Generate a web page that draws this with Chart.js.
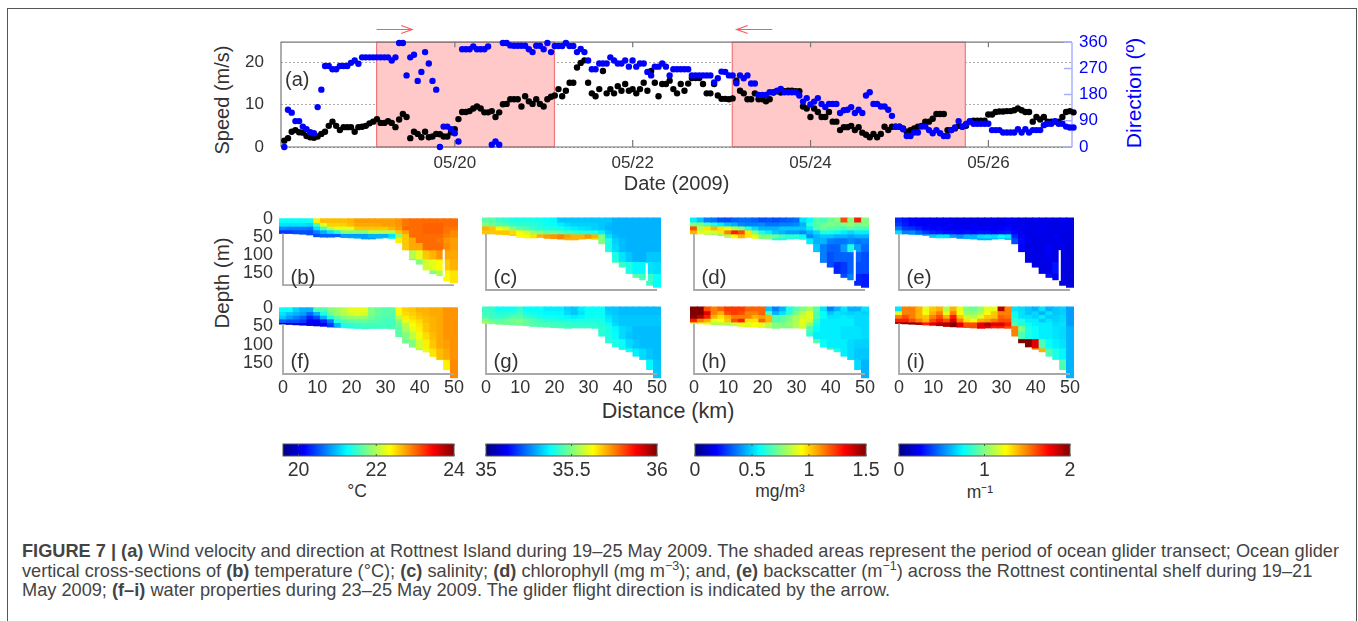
<!DOCTYPE html>
<html>
<head>
<meta charset="utf-8">
<title>Figure 7</title>
<script src="https://cdn.jsdelivr.net/npm/chart.js@4"></script>
<style>
  html, body { margin: 0; padding: 0; background: #fff; overflow: hidden; }
  body { width: 1358px; height: 621px; position: relative; font-family: "Liberation Sans", Arial, sans-serif; color: #333; }
  canvas { position: absolute; }
  #frame { position: absolute; left: 7px; top: 8px; width: 1348px; height: 640px; border: 1.5px solid #555; border-bottom: 0; }
  .rot { position: absolute; transform: translate(-50%, -50%) rotate(-90deg); white-space: nowrap; font-size: 20px; }
  .lab { position: absolute; transform: translate(-50%, -50%); white-space: nowrap; font-size: 21.5px; }
  .unit { font-size: 17.5px; }
  .cap { position: absolute; left: 22px; white-space: nowrap; font-size: 18.2px; line-height: 20px; color: #444; }
  .cap sup { font-size: 12.5px; line-height: 0; }
</style>
</head>
<body>
<div id="frame"></div>
<div class="rot" style="left:222px;top:100px">Speed (m/s)</div>
<div class="rot" style="left:1134px;top:93px;color:#0000ff;font-size:21px">Direction (º)</div>
<div class="rot" style="left:222px;top:283px;font-size:20.5px">Depth (m)</div>
<div class="lab" style="left:668px;top:411px">Distance (km)</div>
<div class="lab unit" style="left:357px;top:491px">°C</div>
<div class="lab unit" style="left:780px;top:491px">mg/m³</div>
<div class="lab unit" style="left:980px;top:491px">m⁻¹</div>
<div class="cap" style="top:541px"><b>FIGURE 7 | (a)</b> Wind velocity and direction at Rottnest Island during 19–25 May 2009. The shaded areas represent the period of ocean glider transect; Ocean glider</div>
<div class="cap" style="top:561px">vertical cross-sections of <b>(b)</b> temperature (°C); <b>(c)</b> salinity; <b>(d)</b> chlorophyll (mg m<sup>−3</sup>); and, <b>(e)</b> backscatter (m<sup>−1</sup>) across the Rottnest continental shelf during 19–21</div>
<div class="cap" style="top:580px">May 2009; <b>(f–i)</b> water properties during 23–25 May 2009. The glider flight direction is indicated by the arrow.</div>

<script>
// hourly wind record, first reading at day 18.08 of May
const firstDay = 18.082;
const speed = [
  1.5,2.1,3.6,4.0,3.5,3.4,2.6,2.3,2.2,2.5,
  3.1,3.6,5.0,6.0,5.0,4.0,4.7,4.7,4.7,3.6,
  4.7,4.8,5.0,5.6,6.0,6.6,5.7,5.7,6.1,5.7,
  4.7,6.5,7.8,7.1,2.1,3.6,3.1,2.3,3.6,2.3,
  2.5,3.1,3.0,2.5,2.5,3.5,4.2,6.6,8.3,8.3,
  8.5,9.1,9.6,9.1,8.2,8.2,8.5,7.1,8.2,10.1,
  10.2,11.3,11.3,11.3,9.6,12.0,10.8,10.2,11.3,10.2,
  9.6,11.3,11.9,12.2,13.7,12,13.3,15.2,15.2,18.8,
  19.9,20.5,15.2,12.7,12,13.7,18,12.7,13.7,12.7,
  14.4,13.3,14.9,13.3,13.7,12.7,13.7,15.2,13.3,18,
  15.2,12,14.9,14.9,15.7,13.7,12.7,14.9,13.3,15,
  16.3,16.3,16.3,14.9,12.7,12.7,14.9,12.2,11.4,11.4,
  11.3,11.5,15.7,13.3,12.7,11.3,11.3,12.7,11.3,11.3,
  10.8,11.3,12.9,13.2,12.9,13.2,13.3,13.3,13.2,13.2,
  9.6,9.1,7.1,9.1,8.3,7.1,7.1,8.3,6,6,
  4,4.7,4.7,5,4,4.7,3.4,2.9,2.3,3.1,
  2.3,3.1,4.8,4,4.8,4.8,4.8,4.4,3.6,4,
  4.4,4.8,5,6,6,6.7,7.8,7.8,7.8,4,
  4,4.4,5,4.8,5,6,6.2,6.2,6.2,6.2,
  7.7,7.7,8.3,8.4,8.4,8.5,8.5,8.7,9.1,8.7,
  8.3,8.3,6,7.1,6.5,7.1,6,6,6,6,
  7.1,8.3,8.5,8.2
];
const direction = [
  0,128,118,89,89,70,61,51,47,137,
  197,278,278,267,267,278,278,278,289,297,
  286,308,308,308,308,308,308,308,308,297,
  308,357,357,246,308,317,227,258,326,287,
  227,197,0,70,70,61,47,19,336,336,
  336,345,336,336,336,345,8,19,8,357,
  357,349,348,348,348,348,336,326,348,348,
  336,357,326,347,347,347,357,347,347,326,
  337,326,297,267,267,287,287,287,308,297,
  287,287,297,276,297,276,287,287,258,246,
  276,276,287,276,246,267,267,267,267,267,
  246,246,246,246,246,246,222,236,259,258,
  246,246,219,246,236,246,218,218,179,179,
  179,188,188,193,199,188,188,188,188,177,
  156,168,146,156,168,148,137,148,148,148,
  117,126,128,137,117,128,117,177,188,148,
  148,139,139,128,107,70,70,61,38,38,
  50,50,70,70,58,47,58,47,38,38,
  58,67,89,70,79,89,80,80,80,80,
  80,58,58,58,50,50,50,50,61,50,
  61,50,58,58,58,75,80,80,89,80,
  80,70,67,67
];
const dateTicks = [20, 22, 24, 26];
const speedTicks = [0, 10, 20];
const directionTicks = [0, 90, 180, 270, 360];
const transects = [[19.12, 21.12], [23.12, 25.74]];
const arrows = [[19.12, 19.52], [23.57, 23.17]];

// cross-sections: columns at 0,2,...,50 km, values on the colour bar in tenths (0-10)
const distances = [0,2,4,6,8,10,12,14,16,18,20,22,24,26,28,30,32,34,36,38,40,42,44,46,48,50];
const distanceTicks = [0, 10, 20, 30, 40, 50];
const depthTicks = [0, 50, 100, 150];
const bands = [0, 10, 20, 30, 40, 50, 65, 85, 110, 140, 190];
const bottomEarly = [40,40,41,42,44,49,50,50,49,51,52,53,55,55,53,52,54,65,85,112,124,140,150,156,170,175];
const bottomLate = [44,45,46,47,48,49,50,52,53,54,55,56,57,56,56,56,57,78,96,107,114,120,132,141,168,190];

// rows shorter than 26 are aligned to the offshore end
const tempEarly = [
  [3.8,3.8,3.8,3.8,3.9,6.4,6.9,6.9,6.9,6.9,7,7.2,7.2,7.2,7.2,7.2,7.2,7.3,7.6,7.7,7.7,7.7,7.7,7.7,7.7,7.7],
  [3.5,3.5,3.5,3.5,3.4,4.5,6,6.7,6.7,6.7,6.9,7.1,7.1,7.1,7.1,7.2,7.2,7.3,7.6,7.7,7.7,7.8,7.8,7.8,7.7,7.7],
  [2.6,2.5,2.5,2.5,2.4,3.5,4.5,5.5,6,6,6,6.8,6.8,6.8,6.8,6.8,7,7.2,7.7,7.7,7.7,7.8,7.8,7.8,7.6,7.6],
  [1.8,1.8,2,2,2,2.5,3,3.5,4,5,5,5,5,5.5,5.5,5.5,5.5,6.8,7.2,7.7,7.7,7.8,7.8,7.8,7.6,7.4],
  [1.8,1.8,1.9,2,2,2,2.2,2.2,2.2,2.8,2.8,2.8,2.8,3,3,3,3.5,5,6.8,7.7,7.7,7.7,7.7,7.7,7.5,7.4],
  [2.8,2.8,3,3,2.8,2.8,3,3.2,4,6.4,6.8,7.1,7.7,7.7,7.7,7.6,7.3,7.2],
  [5.5,6.8,7.1,7.1,7.7,7.7,7.7,7.4,7.2],
  [5,5.5,6,6.8,7,7.3,7.1,7.1],
  [4.5,5,5.8,6,6.3,6.8,7],
  [5,5,5.5,6.3,6.5]
];
const saltEarly = [
  [4.6,4.6,4.3,4.2,4,4,4,4,3.9,3.8,3.7,3.2,3.2,3.2,3.2,3.2,3.2,3.2,3.2,3,3,3,3,3,3,3],
  [5,4.8,4.6,4.5,4.3,4.2,4.2,4.1,4,3.9,3.8,3.6,3.4,3.3,3.3,3.3,3.3,3.2,3.1,3,3,3,3,3,3,3],
  [7,6.8,6.2,5.8,5,4.6,4.5,4.3,4.1,4,4,3.9,3.7,3.6,3.5,3.4,3.3,3.2,3,3,3,3,3,3,3,3],
  [6.8,6.8,6.8,6.8,6.6,6.2,5.8,5.2,5,4.8,4.8,4.6,4.4,4.2,4.1,4,4,3.6,3.2,3,3,3,3,3,3,3],
  [6.8,6.8,6.8,6.8,6.8,6.2,6.2,6.5,7,7.2,7.3,7.5,7.2,7,7,7.3,7,5,3.5,3.1,3,3,3,3,3,3],
  [7,7,7,7,6.5,5,4,3.3,3.1,3,3,3,3,3],
  [4.4,4,3.4,3.1,3,3,3,3,3],
  [4.5,4,3.5,3.2,3,3,3.2,3.2],
  [4.6,4.3,4,3.7,3.7,3.5,3.4],
  [4.7,4.6,4.4,4.3,3.8]
];
const chlEarly = [
  [3.6,3.2,2.5,2.4,2,2,2.2,2.3,2.3,2.2,2,2.1,2,2.1,2.2,2.3,3.5,3.8,4.6,4.4,4.8,5,8,5,8.5,5],
  [5,5,4.5,4,3.6,3.2,3,2.6,2.5,2.5,2.6,2.4,2.4,2.5,2.5,2.6,3,4.2,4.6,4.8,5,4.8,5,5.2,4.8,5],
  [8,5.5,6.5,7,6.5,6,5.5,5,4,3.4,3,3,3,3.2,3.2,3.2,3.2,3.6,4.5,4.8,4.6,4.6,4.4,4.6,4.5,4.5],
  [7,6,6,5.8,6.5,7.5,8.5,8,6.5,5,4,3.6,3.2,3,2.8,2.8,2.6,3,3.4,4,4,3.8,3.6,3.4,3.6,3.6],
  [5,5,5,5,5,5.5,6.2,7,6.5,6,5,5,4.8,4.4,4.2,4.2,3.8,2.6,3,3.2,3.2,3,3,2.8,3,3],
  [4,4,4,4,4.2,3.6,3,3,2.5,2.4,2.4,2.6,2.4,2.5],
  [4,3.2,2.5,2.2,2.2,2.8,4,2.8,2.3],
  [3,2.5,2,2.2,2.2,2.2,2.2,2],
  [2.3,2,1.6,1.8,2.2,2,2],
  [2,2,2.5,1.6,1.5]
];
const backEarly = [
  [1.6,1.4,1.2,1.2,1.2,1.1,1.1,1.2,1,1,1.1,1,1.1,1,1.1,1,1.2,1.1,1,1,1.1,1,1.1,1,1.1,1],
  [1.8,1.5,1.3,1.2,1.2,1.2,1.1,1.1,1.2,1.1,1.1,1.2,1,1.1,1.1,1.1,1.2,1.1,1.1,1,1,1.1,1,1,1.1,1],
  [2.4,1.8,1.7,1.5,1.3,1.2,1.3,1.2,1.1,1.2,1.1,1.2,1.1,1.2,1.1,1.2,1.3,1.1,1,1.1,1,1.1,1,1,1,1],
  [3.4,2.5,2.6,2.2,1.8,1.6,1.5,1.4,1.4,1.3,1.4,1.3,1.4,1.4,1.3,1.4,1.5,1.3,1.1,1,1.1,1,1.1,1,1,1],
  [2.8,3,2.8,3,3,3.2,3.5,3.5,2.8,2.6,3,3,3.4,3.5,3.4,3.8,3.6,1.6,1.2,1,1,1.1,1,1.2,1,1],
  [3,3,3,3.2,3,2,1.3,1.1,1,1,1,1,1,1],
  [1.8,1.2,1,1,1,1.2,1,1.1,0.9],
  [1.4,1,1,1,1.1,1,1,0.9],
  [1.3,1,1,1,1.4,1,0.9],
  [1.2,1.4,1.2,1,0.9]
];
const tempLate = [
  [3.8,3.8,3.3,3,3,4.5,4.5,5,5.3,5.6,6,6,6,5,4.7,4.6,4.6,6.3,6.7,6.8,7,7,7.1,7.1,7.3,7.3],
  [3.5,3.2,3,2.8,2.3,3,4,4.8,5.2,5.5,5.8,6,5.8,5,4.7,4.6,4.6,6.1,6.6,6.7,6.9,7,7.1,7.1,7.3,7.3],
  [3.2,2.8,2.5,2.2,1.6,2,3,4,4.6,5,5.2,5.2,5.2,4.8,4.6,4.5,4.5,5.5,6.4,6.6,6.8,6.9,7,7.1,7.3,7.3],
  [2.2,2,2,1.8,1.2,1.2,1.6,2.4,4,4.5,4.6,4.7,4.7,4.6,4.5,4.4,4.4,5,6,6.4,6.6,6.9,7,7.1,7.3,7.3],
  [0.5,0.7,1,1,1,1,1.2,1.8,3,4,4.2,4.3,4.4,4.4,4.4,4.4,4.4,4.8,5.5,6.2,6.5,6.8,7,7.1,7.3,7.3],
  [4,4.2,4.3,4.3,4.4,4.4,4.5,4.6,5.4,6,6.4,6.8,7,7.1,7.3,7.3],
  [4.6,5,5.6,6.1,6.6,6.9,7.1,7.3,7.3],
  [4.8,5,5.8,6.4,6.8,7.1,7.2,7.3],
  [4.8,5.4,6,6.5,6.9,7.1,7.3],
  [5,5.3,6,6.4,7.4]
];
const saltLate = [
  [4.3,4.2,3.9,3.9,3.9,4.2,3.8,3.8,3.8,3.6,3.6,3.6,3.3,3.2,3.6,3.8,3.8,3.8,3.2,3.2,3.1,3.1,3.1,3.1,3.1,3.1],
  [4.4,4.3,4.1,4.1,4.2,4.4,4,3.9,3.8,3.7,3.7,3.7,3.4,3.2,3.5,3.8,3.8,3.8,3.3,3.2,3.1,3.1,3.1,3.1,3.1,3.1],
  [4.5,4.3,4.3,4.4,4.6,4.6,4.3,4.2,4,3.9,3.9,3.8,3.7,3.6,3.7,3.9,3.9,3.9,3.5,3.3,3.2,3.2,3.2,3.2,3.2,3.2],
  [5,4.7,4.6,4.7,4.9,5,4.7,4.5,4.3,4.2,4.1,4.1,4,4,4,4,4,4,3.6,3.3,3.2,3.2,3.2,3.2,3.2,3.2],
  [5.6,5,4.8,4.8,4.8,4.8,4.7,4.6,4.5,4.5,4.4,4.4,4.3,4.2,4.2,4.2,4.2,4,3.8,3.4,3.2,3.2,3.2,3.2,3.2,3.2],
  [4.4,4.3,4.3,4.3,4.2,4.2,4,3.7,3.4,3.3,3.1,3.1,3.1,3.1],
  [4.1,4,3.8,3.4,3.2,3.1,3.1,3.1,3.1],
  [4.1,4,3.8,3.4,3.2,3.1,3.1,3.1],
  [4.1,4,3.9,3.6,3.4,3.2,3.1],
  [4,4,3.9,3.7,3.2]
];
const chlLate = [
  [10,10,8,7.5,7.8,8.2,8.2,8.2,7.8,7.8,7.8,3.2,2.5,3,4,4.6,5,5.4,4.6,3.5,2.5,3,3.5,3,3,3.5],
  [10,10,9,7.5,7,8,8.2,8,7.5,7.5,7.8,4.5,3,3.5,4.2,5,5.5,6,4.5,3.8,3.2,3.5,3.4,3.3,3.4,3.3],
  [10,9.5,8.5,7,6.5,7,7.5,7.5,7.5,7,7.2,7,4.5,4.6,5,5.4,5.8,6,4.5,3.8,3.5,3.5,3.6,3.5,3.4,3.4],
  [8.5,7.5,7,6,6.2,6.8,8,8.5,6.5,6.5,7.8,7,4.5,4.6,5,5.5,6,5.8,4.2,3.6,3.6,3.6,3.6,3.6,3.4,3.4],
  [6,6,6,5.5,5.5,5.5,5.8,6,6,6.2,6,5.5,5,5,5.2,5.5,6,5.2,4,3.6,3.6,3.6,3.6,3.6,3.4,3.4],
  [5,5,5,5.5,5.8,4.5,3.8,3.6,3.6,3.6,3.5,3.5,3.5,3.4],
  [4.2,3.6,3.6,3.6,3.6,3.5,3.5,3.5,3.4],
  [4.6,3.8,3.6,3.6,3.6,3.4,3.3,3.3],
  [5.5,4.8,4,3.6,3.4,3.2,3.2],
  [4.2,4,3.6,3.4,3]
];
const backLate = [
  [3.5,7.5,7.5,7,6,6.8,7,5.5,7,6,5,4.8,5.2,6,6,9.5,7.5,3.5,3.4,3.2,3,3.5,3,3.2,3.3,2.8],
  [6,7.5,7.5,7,6.2,7,7.5,6,7.5,6.2,5.2,5.2,5.5,6.2,6.8,7.5,7.5,3.8,3.5,3.2,3.4,3,3.5,3.2,3.3,2.8],
  [7.5,8,7.5,7,6.8,7.5,8,7,8.5,6.8,5.8,5.5,6,6.8,6.8,7.8,7.6,4,3.5,3.5,3.3,3.6,3.2,3.3,3.4,2.8],
  [8.5,8.5,8,7.5,7,8,8.5,8,9,7.5,6.5,6.2,7,7.2,7.6,8,8,4.2,4,3.6,3.6,3.2,3.5,3.3,3.4,2.8],
  [10,10,10,9.5,8.5,9,9.5,9.5,10,9,8,8,9,9.5,9,9,8.5,4.5,4,3.8,3.6,3.6,3.6,3.4,3.5,2.8],
  [9,9,8.5,8.5,8,7.5,5,4,3.8,3.6,3.6,3.5,3.4,3],
  [7.5,4.5,4,3.8,3.6,3.6,3.5,3.4,3],
  [10,10,9,4.5,3.8,3.6,3.5,3],
  [7,7,7,4.5,4,3.7,3],
  [7,7,5.5,4.5,3]
];

const colorbarStops = [0, 1.25, 3.75, 6.25, 8.75, 10];

const TEXT = "#333";
const FONT = "'Liberation Sans', Arial, sans-serif";

function jet(v) {
  const t = v / 10;
  const c = (x) => Math.round(255 * Math.max(0, Math.min(1, x)));
  const r = c(Math.min(4 * t - 1.5, -4 * t + 4.5));
  const g = c(Math.min(4 * t - 0.5, -4 * t + 3.5));
  const b = c(Math.min(4 * t + 0.5, -4 * t + 2.5));
  return `rgb(${r},${g},${b})`;
}

function addCanvas(left, top, width, height) {
  const cv = document.createElement("canvas");
  cv.width = width;
  cv.height = height;
  cv.style.left = left + "px";
  cv.style.top = top + "px";
  cv.style.width = width + "px";
  cv.style.height = height + "px";
  document.body.appendChild(cv);
  return cv.getContext("2d");
}

// ---- panel (a) ----
const windPlugin = {
  id: "wind",
  beforeDatasetsDraw(chart) {
    const { ctx, chartArea: a, scales: { x } } = chart;
    ctx.save();
    transects.forEach(([from, to]) => {
      const l = x.getPixelForValue(from), r = x.getPixelForValue(to);
      ctx.fillStyle = "#ffc9c9";
      ctx.fillRect(l, a.top, r - l, a.bottom - a.top);
      ctx.strokeStyle = "#f27878";
      ctx.lineWidth = 1.2;
      ctx.strokeRect(l, a.top, r - l, a.bottom - a.top);
    });
    ctx.strokeStyle = "#777";
    ctx.lineWidth = 1.2;
    ctx.beginPath();
    ctx.moveTo(a.left, a.bottom); ctx.lineTo(a.left, a.top); ctx.lineTo(a.right, a.top);
    ctx.moveTo(a.left, a.bottom); ctx.lineTo(a.right, a.bottom);
    dateTicks.forEach((d) => {
      const p = x.getPixelForValue(d);
      ctx.moveTo(p, a.bottom); ctx.lineTo(p, a.bottom - 7);
      ctx.moveTo(p, a.top); ctx.lineTo(p, a.top + 5);
    });
    ctx.stroke();
    ctx.strokeStyle = "#aab0ff";
    ctx.lineWidth = 1.5;
    ctx.beginPath();
    ctx.moveTo(a.right, a.top); ctx.lineTo(a.right, a.bottom);
    directionTicks.forEach((d) => {
      const p = chart.scales.y1.getPixelForValue(d);
      ctx.moveTo(a.right, p); ctx.lineTo(a.right - 8, p);
    });
    ctx.stroke();
    ctx.strokeStyle = "#ff5a5a";
    ctx.lineWidth = 1.2;
    arrows.forEach(([from, to]) => {
      const p = x.getPixelForValue(from), q = x.getPixelForValue(to), s = Math.sign(q - p);
      ctx.beginPath();
      ctx.moveTo(p, 14.5); ctx.lineTo(q, 14.5);
      ctx.moveTo(q - 11 * s, 10.5); ctx.lineTo(q, 14.5); ctx.lineTo(q - 11 * s, 18.5);
      ctx.stroke();
    });
    ctx.fillStyle = TEXT;
    ctx.font = "20px " + FONT;
    ctx.textBaseline = "middle";
    ctx.fillText("(a)", 85, 65);
    ctx.restore();
  }
};

new Chart(addCanvas(200, 15, 960, 190), {
  type: "scatter",
  data: {
    datasets: [
      { label: "Direction", yAxisID: "y1", order: 0, clip: false, pointRadius: 3.2, pointBackgroundColor: "#0000ff", pointBorderWidth: 0,
        data: direction.map((v, i) => ({ x: firstDay + i / 24, y: v })) },
      { label: "Speed", yAxisID: "y", order: 1, clip: false, pointRadius: 3.2, pointBackgroundColor: "#000", pointBorderWidth: 0,
        data: speed.map((v, i) => ({ x: firstDay + i / 24, y: v })) }
    ]
  },
  options: {
    responsive: false,
    animation: false,
    layout: { padding: { top: 26, bottom: 0, left: 0, right: 0 } },
    plugins: { legend: { display: false }, tooltip: { enabled: false } },
    scales: {
      x: {
        type: "linear", min: 18.045, max: 26.94,
        afterBuildTicks: (s) => { s.ticks = dateTicks.map((value) => ({ value })); },
        afterFit: (s) => { s.height = 58; },
        border: { display: false }, grid: { display: false, drawTicks: false },
        ticks: { color: TEXT, font: { size: 17, family: FONT }, padding: 6, maxRotation: 0, autoSkip: false, callback: (v) => "05/" + v },
        title: { display: true, text: "Date (2009)", color: TEXT, font: { size: 20, family: FONT }, padding: { top: 0, bottom: 9 } }
      },
      y: {
        min: 0, max: 24.8,
        afterBuildTicks: (s) => { s.ticks = speedTicks.map((value) => ({ value })); },
        afterFit: (s) => { s.width = 81; },
        border: { display: false, dash: [2, 2] },
        grid: { color: "#aaa", drawTicks: false, lineWidth: 1 },
        ticks: { color: TEXT, font: { size: 17, family: FONT }, padding: 17 }
      },
      y1: {
        position: "right", min: 0, max: 360,
        afterBuildTicks: (s) => { s.ticks = directionTicks.map((value) => ({ value })); },
        afterFit: (s) => { s.width = 88; },
        border: { display: false }, grid: { display: false, drawTicks: false },
        ticks: { color: "#0000ff", font: { size: 17, family: FONT }, padding: 7 }
      }
    }
  },
  plugins: [windPlugin]
});

// ---- sections ----
function sectionDatasets(rows, bottoms, gap) {
  const sets = rows.map((row, r) => {
    const data = [], colors = [];
    distances.forEach((km, c) => {
      if (bands[r] >= bottoms[c]) return;
      let k = r, idx = c - (26 - rows[k].length);
      while (idx < 0) { k--; idx = c - (26 - rows[k].length); }
      data.push({ x: km, y: [bands[r], Math.min(bands[r + 1], bottoms[c])] });
      colors.push(jet(rows[k][idx]));
    });
    return { data, backgroundColor: colors, grouped: false, barThickness: 7, clip: false, borderWidth: 0, inflateAmount: 0.5, order: 2 };
  });
  if (gap) {
    sets.push({ data: [{ x: 47, y: gap }], backgroundColor: "#fff", grouped: false, barThickness: 1.5, clip: false, borderWidth: 0, order: 1 });
  }
  return sets;
}

function section(x0, top, h, maxDepth, name, rows, bottoms, opts) {
  const left = opts.firstCol ? x0 - 60 : x0 - 14;
  const topPad = 20;
  const bottomPad = opts.lastRow ? 28 : 16;
  const labelPlugin = {
    id: "panelLabel",
    afterDatasetsDraw(chart) {
      const { ctx, chartArea: a } = chart;
      ctx.save();
      ctx.strokeStyle = "#a8a8a8";
      ctx.lineWidth = 1.8;
      ctx.beginPath();
      ctx.moveTo(a.right, a.bottom); ctx.lineTo(a.left, a.bottom);
      ctx.lineTo(a.left, chart.scales.y.getPixelForValue(bottoms[0]));
      ctx.stroke();
      ctx.fillStyle = TEXT;
      ctx.font = "20.5px " + FONT;
      ctx.textBaseline = "middle";
      ctx.fillText(name, a.left + 7.5, opts.labelY - (top - topPad));
      ctx.restore();
    }
  };
  new Chart(addCanvas(left, top - topPad, (x0 - left) + 171 + 16, h + topPad + bottomPad), {
    type: "bar",
    data: { datasets: sectionDatasets(rows, bottoms, opts.gap) },
    options: {
      responsive: false,
      animation: false,
      layout: { padding: { top: topPad, bottom: opts.lastRow ? 0 : bottomPad, right: 16, left: 0 } },
      plugins: { legend: { display: false }, tooltip: { enabled: false } },
      scales: {
        x: {
          type: "linear", min: 0, max: 50, offset: false,
          afterBuildTicks: (s) => { s.ticks = distanceTicks.map((value) => ({ value })); },
          afterFit: (s) => { s.height = opts.lastRow ? bottomPad : 0; },
          border: { display: false }, grid: { display: false, drawTicks: false },
          ticks: { display: !!opts.lastRow, color: TEXT, font: { size: 18, family: FONT }, padding: 3, maxRotation: 0, autoSkip: false }
        },
        y: {
          reverse: true, min: 0, max: maxDepth,
          afterBuildTicks: (s) => { s.ticks = depthTicks.map((value) => ({ value })); },
          afterFit: (s) => { s.width = x0 - left; },
          border: { display: false }, grid: { display: false, drawTicks: false },
          ticks: { display: !!opts.firstCol, color: TEXT, font: { size: 18, family: FONT }, padding: 10, autoSkip: false }
        }
      }
    },
    plugins: [labelPlugin]
  });
}

const columnX = [283, 486, 694, 899];
section(columnX[0], 218, 72, 182, "(b)", tempEarly, bottomEarly, { firstCol: true, labelY: 278, gap: [85, 158] });
section(columnX[1], 218, 72, 182, "(c)", saltEarly, bottomEarly, { labelY: 278, gap: [115, 158] });
section(columnX[2], 218, 72, 182, "(d)", chlEarly, bottomEarly, { labelY: 278, gap: [82, 158] });
section(columnX[3], 218, 72, 182, "(e)", backEarly, bottomEarly, { labelY: 278, gap: [82, 158] });
section(columnX[0], 306.5, 67.5, 180, "(f)", tempLate, bottomLate, { firstCol: true, lastRow: true, labelY: 362 });
section(columnX[1], 306.5, 67.5, 180, "(g)", saltLate, bottomLate, { lastRow: true, labelY: 362 });
section(columnX[2], 306.5, 67.5, 180, "(h)", chlLate, bottomLate, { lastRow: true, labelY: 362 });
section(columnX[3], 306.5, 67.5, 180, "(i)", backLate, bottomLate, { lastRow: true, labelY: 362 });

// ---- colour bars ----
function colorbar(x0, width, range, ticks) {
  const pad = 26;
  const framePlugin = {
    id: "barFrame",
    afterDatasetsDraw(chart) {
      const { ctx, chartArea: a, scales: { x } } = chart;
      ctx.save();
      ctx.strokeStyle = "#555";
      ctx.lineWidth = 1;
      ctx.strokeRect(a.left, a.top, a.right - a.left, a.bottom - a.top);
      ctx.beginPath();
      ticks.forEach((t) => {
        const p = x.getPixelForValue(t);
        ctx.moveTo(p, a.bottom); ctx.lineTo(p, a.bottom - 2);
        ctx.moveTo(p, a.top); ctx.lineTo(p, a.top + 2);
      });
      ctx.stroke();
      ctx.restore();
    }
  };
  new Chart(addCanvas(x0 - pad, 438, width + 2 * pad, 66), {
    type: "bar",
    data: {
      labels: [""],
      datasets: [{
        data: [range],
        barPercentage: 1,
        categoryPercentage: 1,
        backgroundColor(c) {
          const a = c.chart.chartArea;
          if (!a) return "#00f";
          const g = c.chart.ctx.createLinearGradient(a.left, 0, a.right, 0);
          colorbarStops.forEach((s) => g.addColorStop(s / 10, jet(s)));
          return g;
        }
      }]
    },
    options: {
      indexAxis: "y",
      responsive: false,
      animation: false,
      layout: { padding: { top: 6, left: pad, right: pad, bottom: 0 } },
      plugins: { legend: { display: false }, tooltip: { enabled: false } },
      scales: {
        x: {
          type: "linear", min: range[0], max: range[1],
          afterBuildTicks: (s) => { s.ticks = ticks.map((value) => ({ value })); },
          afterFit: (s) => { s.height = 48; },
          border: { display: false }, grid: { display: false, drawTicks: false },
          ticks: { color: TEXT, font: { size: 19.5, family: FONT }, padding: 3, maxRotation: 0, autoSkip: false, callback: (v) => String(v) }
        },
        y: { display: false }
      }
    },
    plugins: [framePlugin]
  });
}

colorbar(283, 171, [19.6, 24], [20, 22, 24]);
colorbar(486, 171, [35, 36], [35, 35.5, 36]);
colorbar(695, 171, [0, 1.5], [0, 0.5, 1, 1.5]);
colorbar(899, 171, [0, 2], [0, 1, 2]);
</script>
</body>
</html>
